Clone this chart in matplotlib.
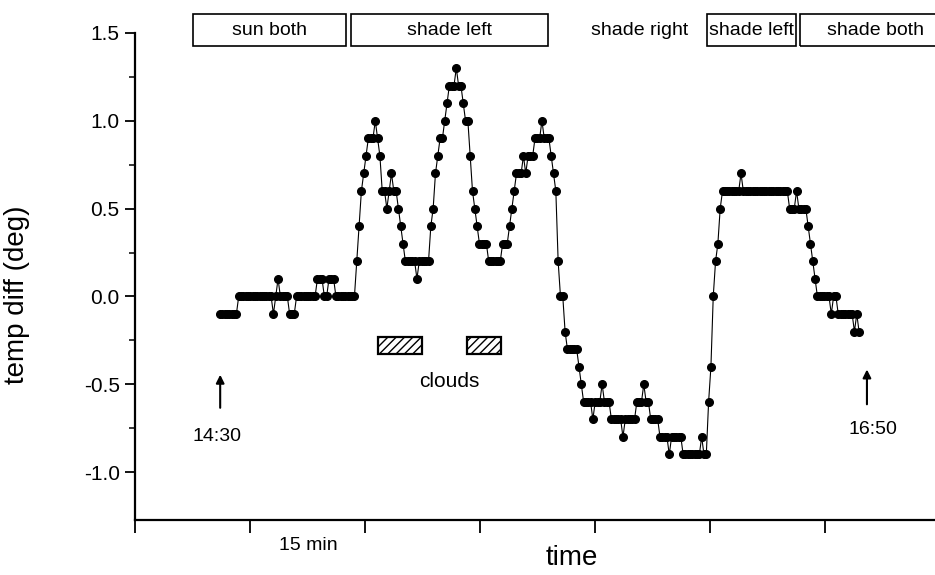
import numpy as np
import matplotlib
matplotlib.use('Agg')
import matplotlib.pyplot as plt
from matplotlib.patches import Rectangle

plt.rcParams['font.family'] = ['Liberation Sans', 'DejaVu Sans']

# temp difference readings (0.1 deg steps), one reading every 0.5 min from 14:30,
# written as runs of equal readings: level, number of readings
levels = [-0.1, 0.0, -0.1, 0.0, 0.1, 0.0, -0.1, 0.0, 0.1, 0.0, 0.1, 0.0,
          0.2, 0.4, 0.6, 0.7, 0.8, 0.9, 1.0, 0.9, 0.8, 0.6, 0.5, 0.6, 0.7, 0.6,
          0.5, 0.4, 0.3, 0.2, 0.1, 0.2,
          0.4, 0.5, 0.7, 0.8, 0.9, 1.0, 1.1, 1.2, 1.3, 1.2, 1.1, 1.0, 0.8, 0.6,
          0.5, 0.4, 0.3, 0.2, 0.3, 0.4, 0.5, 0.6, 0.7, 0.8, 0.7, 0.8, 0.9, 1.0,
          0.9, 0.8, 0.7, 0.6, 0.2, 0.0, -0.2, -0.3, -0.4, -0.5, -0.6, -0.7,
          -0.6, -0.5, -0.6, -0.7, -0.8, -0.7, -0.6, -0.5, -0.6, -0.7, -0.8,
          -0.9, -0.8, -0.9, -0.8, -0.9, -0.6, -0.4, 0.0, 0.2, 0.3, 0.5, 0.6,
          0.7, 0.6, 0.5, 0.6, 0.5, 0.4, 0.3, 0.2, 0.1, 0.0, -0.1, 0.0, -0.1,
          -0.2, -0.1, -0.2]
counts = [8, 15, 1, 1, 1, 4, 3, 9, 3, 2, 3, 9,
          1, 1, 1, 1, 1, 3, 1, 1, 1, 2, 1, 1, 1, 2,
          1, 1, 1, 5, 1, 5,
          1, 1, 1, 1, 2, 1, 1, 3, 1, 2, 1, 2, 1, 1,
          1, 1, 4, 6, 3, 1, 1, 1, 3, 1, 1, 3, 3, 1,
          3, 1, 1, 1, 1, 2, 1, 5, 1, 1, 4, 1,
          3, 1, 3, 5, 1, 5, 3, 1, 2, 4, 4,
          1, 5, 8, 1, 2, 1, 1, 1, 1, 1, 1, 8,
          1, 20, 3, 1, 4, 1, 1, 1, 1, 6, 1, 2, 7,
          1, 1, 1]
temp = np.repeat(levels, counts)
minutes = np.arange(len(temp)) * 0.5

# sun / shade phases along the top
phase_labels = ['sun both', 'shade left', 'shade right', 'shade left', 'shade both']
phase_start = [-5.8, 28.3, 76.2, 105.2, 125.3]
phase_end = [27.2, 70.8, 105.2, 124.4, 165.0]
phase_boxed = [True, True, False, True, True]

# cloud periods
cloud_start = [34.1, 53.3]
cloud_end = [43.6, 60.7]

fig = plt.figure(figsize=(9.35, 5.75), dpi=100)
ax = fig.add_axes([135 / 935, 55 / 575, 800 / 935, 487 / 575])

ax.plot(minutes, temp, '-o', color='k', lw=0.8, ms=5.5, mec='k', clip_on=False)

ax.set_xlim(-18.4, 154.4)
ax.set_ylim(-1.273, 1.5)

for s in ['top', 'right']:
    ax.spines[s].set_visible(False)
for s in ['left', 'bottom']:
    ax.spines[s].set_linewidth(1.6)

ax.set_yticks([-1.0, -0.5, 0.0, 0.5, 1.0, 1.5])
ax.set_yticklabels(['-1.0', '-0.5', '0.0', '0.5', '1.0', '1.5'])
ax.set_yticks([-0.75, -0.25, 0.25, 0.75, 1.25], minor=True)
ax.set_xticks([-18.4, 6.5, 31.3, 56.2, 81.0, 105.9, 130.7])
ax.set_xticklabels([])
ax.tick_params(axis='y', which='major', direction='out', length=7, width=1.3,
               labelsize=15, pad=4)
ax.tick_params(axis='y', which='minor', direction='out', length=4, width=1.1)
ax.tick_params(axis='x', which='major', direction='out', length=9, width=1.3)

ax.set_ylabel('temp diff (deg)', fontsize=20)
ax.yaxis.set_label_coords(-0.131, 0.462)
ax.text(76.0, -1.49, 'time', fontsize=20, ha='center', va='center', clip_on=False)
ax.text(19.0, -1.42, '15 min', fontsize=14, ha='center', va='center', clip_on=False)

for lab, x0, x1, boxed in zip(phase_labels, phase_start, phase_end, phase_boxed):
    if boxed:
        ax.add_patch(Rectangle((x0, 1.426), x1 - x0, 0.182, fill=False,
                               lw=1.2, ec='k', clip_on=False))
        xc = (x0 + x1) / 2 if x1 < 150 else x0 + 16.2
    else:
        xc = (x0 + x1) / 2
    ax.text(xc, 1.517, lab, fontsize=14, ha='center', va='center', clip_on=False)

for x0, x1 in zip(cloud_start, cloud_end):
    ax.add_patch(Rectangle((x0, -0.325), x1 - x0, 0.095, facecolor='white',
                           ec='k', lw=1.6, hatch='////'))
ax.text(49.5, -0.487, 'clouds', fontsize=15, ha='center', va='center')

arrow = dict(arrowstyle='-|>', color='k', lw=1.5, mutation_scale=12)
ax.annotate('', xy=(0, -0.43), xytext=(0, -0.65), arrowprops=arrow)
ax.text(-0.6, -0.80, '14:30', fontsize=14, ha='center', va='center')
ax.annotate('', xy=(139.7, -0.40), xytext=(139.7, -0.63), arrowprops=arrow)
ax.text(141.0, -0.76, '16:50', fontsize=14, ha='center', va='center')

fig.savefig('out.png', dpi=100)
